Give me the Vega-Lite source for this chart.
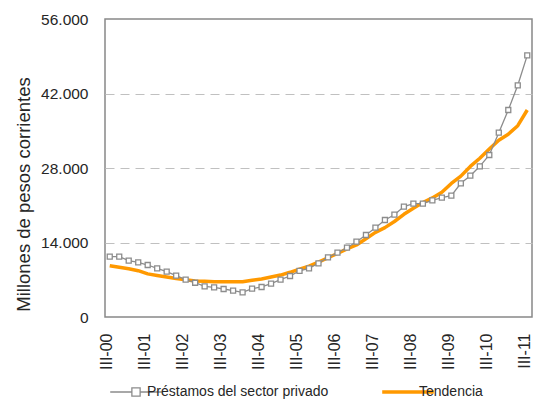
{
  "$schema": "https://vega.github.io/schema/vega-lite/v6.json",
  "width": 427,
  "height": 298,
  "autosize": {"type": "none"},
  "padding": {"left": 105, "top": 19, "right": 2, "bottom": 85},
  "background": "white",
  "config": {
    "view": {"stroke": "#888888", "strokeWidth": 1.5},
    "font": "Liberation Sans"
  },
  "data": {
    "values": [
      {"q": "III-00", "s": "Préstamos del sector privado", "v": 11330},
      {"q": "IV-00", "s": "Préstamos del sector privado", "v": 11330},
      {"q": "I-01", "s": "Préstamos del sector privado", "v": 10580},
      {"q": "II-01", "s": "Préstamos del sector privado", "v": 10280},
      {"q": "III-01", "s": "Préstamos del sector privado", "v": 9770},
      {"q": "IV-01", "s": "Préstamos del sector privado", "v": 9150},
      {"q": "I-02", "s": "Préstamos del sector privado", "v": 8510},
      {"q": "II-02", "s": "Préstamos del sector privado", "v": 7760},
      {"q": "III-02", "s": "Préstamos del sector privado", "v": 7010},
      {"q": "IV-02", "s": "Préstamos del sector privado", "v": 6440},
      {"q": "I-03", "s": "Préstamos del sector privado", "v": 5770},
      {"q": "II-03", "s": "Préstamos del sector privado", "v": 5580},
      {"q": "III-03", "s": "Préstamos del sector privado", "v": 5260},
      {"q": "IV-03", "s": "Préstamos del sector privado", "v": 4940},
      {"q": "I-04", "s": "Préstamos del sector privado", "v": 4640},
      {"q": "II-04", "s": "Préstamos del sector privado", "v": 5320},
      {"q": "III-04", "s": "Préstamos del sector privado", "v": 5640},
      {"q": "IV-04", "s": "Préstamos del sector privado", "v": 6260},
      {"q": "I-05", "s": "Préstamos del sector privado", "v": 7010},
      {"q": "II-05", "s": "Préstamos del sector privado", "v": 7700},
      {"q": "III-05", "s": "Préstamos del sector privado", "v": 8650},
      {"q": "IV-05", "s": "Préstamos del sector privado", "v": 9150},
      {"q": "I-06", "s": "Préstamos del sector privado", "v": 10090},
      {"q": "II-06", "s": "Préstamos del sector privado", "v": 11220},
      {"q": "III-06", "s": "Préstamos del sector privado", "v": 12080},
      {"q": "IV-06", "s": "Préstamos del sector privado", "v": 13020},
      {"q": "I-07", "s": "Préstamos del sector privado", "v": 14150},
      {"q": "II-07", "s": "Préstamos del sector privado", "v": 15410},
      {"q": "III-07", "s": "Préstamos del sector privado", "v": 16780},
      {"q": "IV-07", "s": "Préstamos del sector privado", "v": 18230},
      {"q": "I-08", "s": "Préstamos del sector privado", "v": 19220},
      {"q": "II-08", "s": "Préstamos del sector privado", "v": 20760},
      {"q": "III-08", "s": "Préstamos del sector privado", "v": 21290},
      {"q": "IV-08", "s": "Préstamos del sector privado", "v": 21290},
      {"q": "I-09", "s": "Préstamos del sector privado", "v": 21930},
      {"q": "II-09", "s": "Préstamos del sector privado", "v": 22420},
      {"q": "III-09", "s": "Préstamos del sector privado", "v": 22790},
      {"q": "IV-09", "s": "Préstamos del sector privado", "v": 25120},
      {"q": "I-10", "s": "Préstamos del sector privado", "v": 26550},
      {"q": "II-10", "s": "Préstamos del sector privado", "v": 28320},
      {"q": "III-10", "s": "Préstamos del sector privado", "v": 30440},
      {"q": "IV-10", "s": "Préstamos del sector privado", "v": 34630},
      {"q": "I-11", "s": "Préstamos del sector privado", "v": 38900},
      {"q": "II-11", "s": "Préstamos del sector privado", "v": 43540},
      {"q": "III-11", "s": "Préstamos del sector privado", "v": 49170},
      {"q": "III-00", "s": "Tendencia", "v": 9640},
      {"q": "IV-00", "s": "Tendencia", "v": 9360},
      {"q": "I-01", "s": "Tendencia", "v": 9080},
      {"q": "II-01", "s": "Tendencia", "v": 8700},
      {"q": "III-01", "s": "Tendencia", "v": 8100},
      {"q": "IV-01", "s": "Tendencia", "v": 7800},
      {"q": "I-02", "s": "Tendencia", "v": 7520},
      {"q": "II-02", "s": "Tendencia", "v": 7220},
      {"q": "III-02", "s": "Tendencia", "v": 6980},
      {"q": "IV-02", "s": "Tendencia", "v": 6760},
      {"q": "I-03", "s": "Tendencia", "v": 6700},
      {"q": "II-03", "s": "Tendencia", "v": 6630},
      {"q": "III-03", "s": "Tendencia", "v": 6630},
      {"q": "IV-03", "s": "Tendencia", "v": 6630},
      {"q": "I-04", "s": "Tendencia", "v": 6630},
      {"q": "II-04", "s": "Tendencia", "v": 6900},
      {"q": "III-04", "s": "Tendencia", "v": 7150},
      {"q": "IV-04", "s": "Tendencia", "v": 7500},
      {"q": "I-05", "s": "Tendencia", "v": 7880},
      {"q": "II-05", "s": "Tendencia", "v": 8400},
      {"q": "III-05", "s": "Tendencia", "v": 9000},
      {"q": "IV-05", "s": "Tendencia", "v": 9550},
      {"q": "I-06", "s": "Tendencia", "v": 10300},
      {"q": "II-06", "s": "Tendencia", "v": 11130},
      {"q": "III-06", "s": "Tendencia", "v": 11930},
      {"q": "IV-06", "s": "Tendencia", "v": 12800},
      {"q": "I-07", "s": "Tendencia", "v": 13530},
      {"q": "II-07", "s": "Tendencia", "v": 14700},
      {"q": "III-07", "s": "Tendencia", "v": 15900},
      {"q": "IV-07", "s": "Tendencia", "v": 16800},
      {"q": "I-08", "s": "Tendencia", "v": 17950},
      {"q": "II-08", "s": "Tendencia", "v": 19300},
      {"q": "III-08", "s": "Tendencia", "v": 20450},
      {"q": "IV-08", "s": "Tendencia", "v": 21500},
      {"q": "I-09", "s": "Tendencia", "v": 22380},
      {"q": "II-09", "s": "Tendencia", "v": 23450},
      {"q": "III-09", "s": "Tendencia", "v": 25100},
      {"q": "IV-09", "s": "Tendencia", "v": 26470},
      {"q": "I-10", "s": "Tendencia", "v": 28300},
      {"q": "II-10", "s": "Tendencia", "v": 29830},
      {"q": "III-10", "s": "Tendencia", "v": 31550},
      {"q": "IV-10", "s": "Tendencia", "v": 33200},
      {"q": "I-11", "s": "Tendencia", "v": 34350},
      {"q": "II-11", "s": "Tendencia", "v": 35950},
      {"q": "III-11", "s": "Tendencia", "v": 38900}
    ]
  },
  "encoding": {
    "x": {
      "field": "q",
      "type": "ordinal",
      "sort": null,
      "scale": {"type": "point", "padding": 0.5},
      "axis": {
        "values": ["III-00", "III-01", "III-02", "III-03", "III-04", "III-05", "III-06", "III-07", "III-08", "III-09", "III-10", "III-11"],
        "title": null,
        "labelAngle": -90,
        "labelFontSize": 16,
        "labelColor": "#262626",
        "labelPadding": 16,
        "labelOffset": -3,
        "ticks": false,
        "domain": false,
        "grid": false
      }
    },
    "y": {
      "field": "v",
      "type": "quantitative",
      "scale": {"domain": [0, 56000], "nice": false},
      "axis": {
        "values": [0, 14000, 28000, 42000, 56000],
        "labelExpr": "replace(format(datum.value, ','), ',', '.')",
        "labelFontSize": 15.5,
        "labelColor": "#262626",
        "labelPadding": 17,
        "ticks": false,
        "domain": false,
        "grid": true,
        "gridColor": "#c0c0c0",
        "gridDash": [9, 6],
        "gridWidth": 1,
        "gridOpacity": {"condition": {"test": "datum.value === 0 || datum.value === 56000", "value": 0}, "value": 1},
        "title": "Millones de pesos corrientes",
        "titleFontSize": 18.5,
        "titleFontWeight": "normal",
        "titleColor": "#262626",
        "titleAngle": -90,
        "titleX": -76,
        "titleY": 175,
        "titleAlign": "center",
        "titleBaseline": "alphabetic"
      }
    }
  },
  "layer": [
    {
      "transform": [{"filter": "datum.s === 'Tendencia'"}],
      "mark": {"type": "line", "strokeWidth": 3.5, "strokeJoin": "round"},
      "encoding": {
        "color": {
          "field": "s",
          "type": "nominal",
          "scale": {"domain": ["Préstamos del sector privado", "Tendencia"], "range": ["#8c8c8c", "#ff9900"]},
          "legend": {
            "orient": "none",
            "legendX": 24,
            "legendY": 366,
            "direction": "horizontal",
            "title": null,
            "labelFontSize": 14,
            "labelColor": "#262626",
            "labelLimit": 0,
            "symbolSize": 2660,
            "symbolType": "stroke",
            "labelOffset": 4,
            "columnPadding": 46,
            "encode": {
              "symbols": {
                "update": {
                  "shape": {"signal": "datum.value === 'Tendencia' ? 'M-1,0H1' : 'M-1,0H-0.16M0.16,0H1M-0.16,-0.16H0.16V0.16H-0.16Z'"},
                  "strokeWidth": {"signal": "datum.value === 'Tendencia' ? 3.5 : 1.3"},
                  "fill": {"value": "white"}
                }
              }
            }
          }
        }
      }
    },
    {
      "transform": [{"filter": "datum.s === 'Préstamos del sector privado'"}],
      "mark": {"type": "line", "strokeWidth": 1.3},
      "encoding": {
        "color": {"field": "s", "type": "nominal"}
      }
    },
    {
      "transform": [{"filter": "datum.s === 'Préstamos del sector privado'"}],
      "mark": {"type": "point", "shape": "square", "filled": true, "fill": "white", "stroke": "#8c8c8c", "strokeWidth": 1.3, "size": 25, "opacity": 1}
    }
  ]
}
